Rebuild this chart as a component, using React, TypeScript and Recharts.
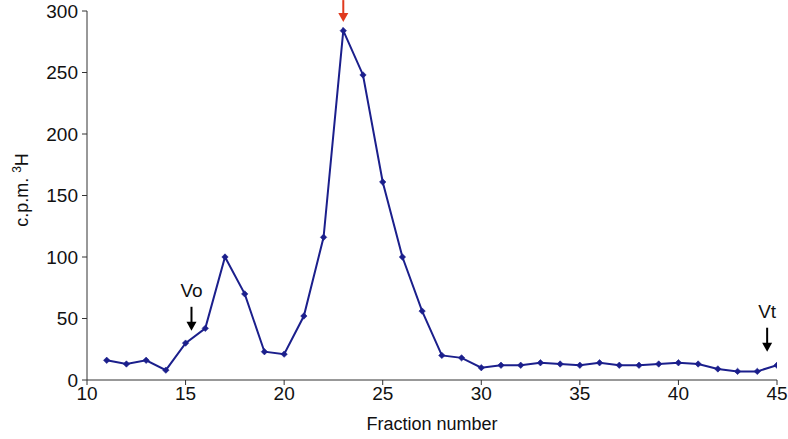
import React from 'react';
import { LineChart, Line, XAxis, YAxis, ReferenceDot } from 'recharts';

const fractions = [11, 12, 13, 14, 15, 16, 17, 18, 19, 20, 21, 22, 23, 24, 25, 26, 27, 28, 29, 30, 31, 32, 33, 34, 35, 36, 37, 38, 39, 40, 41, 42, 43, 44, 45];
const cpm = [16, 13, 16, 8, 30, 42, 100, 70, 23, 21, 52, 116, 284, 248, 161, 100, 56, 20, 18, 10, 12, 12, 14, 13, 12, 14, 12, 12, 13, 14, 13, 9, 7, 7, 12];
const xTicks = [10, 15, 20, 25, 30, 35, 40, 45];
const yTicks = [0, 50, 100, 150, 200, 250, 300];

// arrow annotations: x position, tip value, label
const arrows = [
  { x: 15.3, y: 40, label: 'Vo', color: '#000' },
  { x: 44.5, y: 23, label: 'Vt', color: '#000' },
  { x: 23, y: 291, label: '', color: '#e03a1e' },
];

const data = fractions.map((f, i) => ({ f, v: cpm[i] }));

const NAVY = '#1b1f8c';
const FONT = 'Liberation Sans, Arial, sans-serif';

const Diamond = (props: any) => {
  const { cx, cy } = props;
  if (cx == null || cy == null) return null;
  const r = 3.2;
  return (
    <polygon
      points={`${cx},${cy - r} ${cx + r},${cy} ${cx},${cy + r} ${cx - r},${cy}`}
      fill={NAVY}
      stroke={NAVY}
      strokeWidth={0.6}
    />
  );
};

const Arrow = ({ cx, cy, label, color }: any) => {
  const len = label ? 24 : 22;
  return (
    <g>
      <line x1={cx} y1={cy - len} x2={cx} y2={cy - 7} stroke={color} strokeWidth={2} />
      <polygon points={`${cx - 5},${cy - 9} ${cx + 5},${cy - 9} ${cx},${cy}`} fill={color} />
      {label && (
        <text x={cx} y={cy - len - 10} textAnchor="middle" fontFamily={FONT} fontSize={19} fill="#111">
          {label}
        </text>
      )}
    </g>
  );
};

const YLabel = () => (
  <text
    transform="translate(28,190) rotate(-90)"
    textAnchor="middle"
    fontFamily={FONT}
    fontSize={18}
    fill="#111"
  >
    c.p.m. <tspan baselineShift="super" fontSize={12}>3</tspan>H
  </text>
);

export default function App() {
  return (
    <div style={{ position: 'absolute', left: 0, top: 0, background: '#fff' }}>
      <LineChart width={788} height={439} data={data} margin={{ top: 11, right: 11, bottom: 0, left: 0 }}>
        <XAxis
          dataKey="f"
          type="number"
          domain={[10, 45]}
          ticks={xTicks}
          allowDataOverflow
          height={59}
          stroke="#333"
          tickSize={5}
          tickMargin={2}
          tick={{ fill: '#111', fontSize: 19, fontFamily: FONT }}
          label={{ value: 'Fraction number', position: 'insideBottom', offset: 9, fill: '#111', fontSize: 18, fontFamily: FONT }}
        />
        <YAxis
          type="number"
          domain={[0, 300]}
          ticks={yTicks}
          width={87}
          stroke="#333"
          tickSize={5}
          tickMargin={4}
          tick={{ fill: '#111', fontSize: 19, fontFamily: FONT }}
        />
        <Line
          type="linear"
          dataKey="v"
          stroke={NAVY}
          strokeWidth={2}
          dot={<Diamond />}
          activeDot={false}
          isAnimationActive={false}
        />
        {arrows.map((a, i) => (
          <ReferenceDot
            key={i}
            x={a.x}
            y={a.y}
            ifOverflow="visible"
            shape={(p: any) => <Arrow cx={p.cx} cy={p.cy} label={a.label} color={a.color} />}
          />
        ))}
        <YLabel />
      </LineChart>
    </div>
  );
}
